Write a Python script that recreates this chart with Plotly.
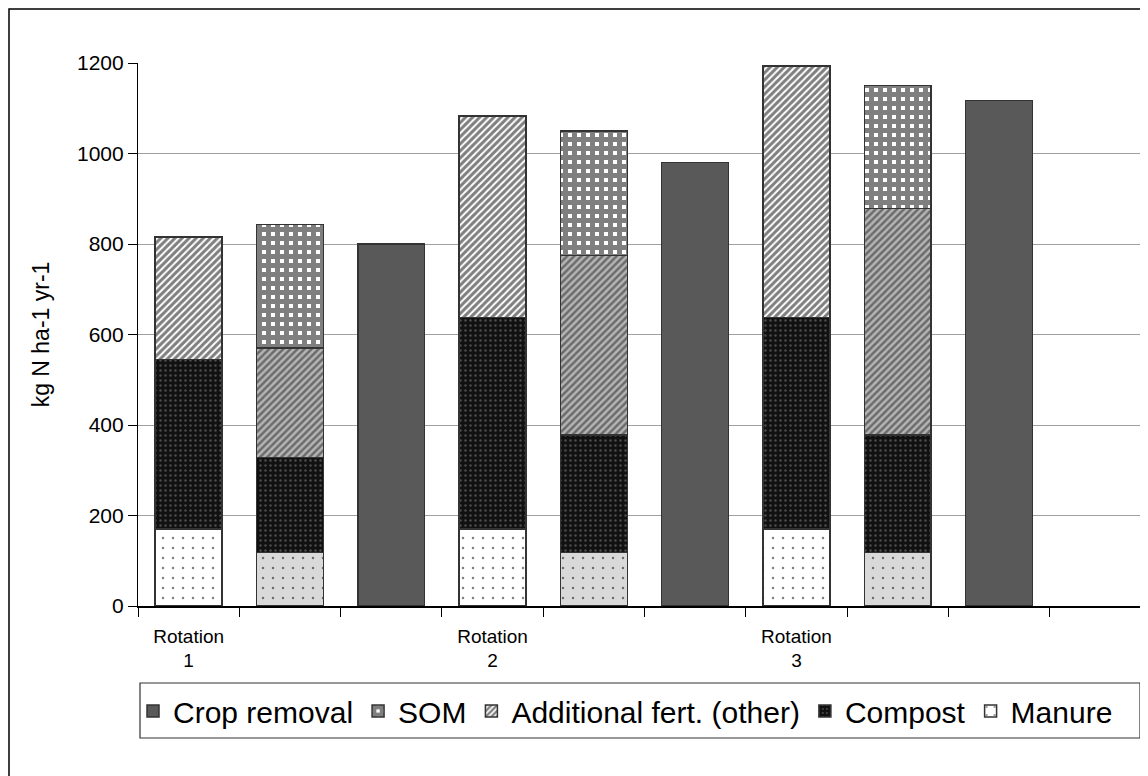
import plotly.graph_objects as go

positions = [1, 2, 3, 4, 5, 6, 7, 8, 9]
rotation_ticks = [1, 4, 7]
rotation_labels = ["Rotation<br>1", "Rotation<br>2", "Rotation<br>3"]

manure = [170, 118, None, 170, 118, None, 170, 118, None]
compost = [375, 210, None, 468, 260, None, 468, 260, None]
additional = [270, 242, None, 445, 397, None, 555, 500, None]
som = [None, 273, None, None, 275, None, None, 272, None]
crop_removal = [None, None, 800, None, None, 980, None, None, 1117]

# scenario A bars (1, 4, 7) vs scenario B bars (2, 5, 8) are shaded differently
scen_a = [True, False, False, True, False, False, True, False, False]


def pick(values, mask):
    return [v if m else None for v, m in zip(values, mask)]


scen_b = [not m for m in scen_a]

W = 0.66
LINE = dict(color="#333333", width=1.5)

fig = go.Figure()

# Manure (white / light gray with black dots)
fig.add_trace(go.Bar(
    name="Manure", legendgroup="manure", x=positions, y=pick(manure, scen_a), width=W,
    marker=dict(color="#ffffff", line=LINE,
                pattern=dict(shape=".", fgcolor="#000000", bgcolor="#ffffff", size=10, solidity=0.05)),
))
fig.add_trace(go.Bar(
    name="Manure", legendgroup="manure", showlegend=False, x=positions, y=pick(manure, scen_b), width=W,
    marker=dict(color="#d9d9d9", line=LINE,
                pattern=dict(shape=".", fgcolor="#000000", bgcolor="#d9d9d9", size=10, solidity=0.05)),
))
# Compost
fig.add_trace(go.Bar(
    name="Compost", x=positions, y=compost, width=W,
    marker=dict(color="#111111", line=LINE,
                pattern=dict(shape=".", fgcolor="#8a8a8a", bgcolor="#111111", size=5, solidity=0.18)),
))
# Additional fert.
fig.add_trace(go.Bar(
    name="Additional fert. (other)", legendgroup="add", x=positions, y=pick(additional, scen_a), width=W,
    marker=dict(color="#ffffff", line=LINE,
                pattern=dict(shape="/", fgcolor="#000000", bgcolor="#ffffff", size=5, solidity=0.6)),
))
fig.add_trace(go.Bar(
    name="Additional fert. (other)", legendgroup="add", showlegend=False, x=positions,
    y=pick(additional, scen_b), width=W,
    marker=dict(color="#b5b5b5", line=LINE,
                pattern=dict(shape="/", fgcolor="#222222", bgcolor="#b5b5b5", size=5, solidity=0.5)),
))
# SOM
fig.add_trace(go.Bar(
    name="SOM", x=positions, y=som, width=W,
    marker=dict(color="#ffffff", line=LINE,
                pattern=dict(shape="+", fgcolor="#000000", bgcolor="#ffffff", size=9, solidity=0.8)),
))
# Crop removal
fig.add_trace(go.Bar(
    name="Crop removal", x=positions, y=crop_removal, width=W,
    marker=dict(color="#595959", line=dict(color="#333333", width=1.5)),
))

OFF = 8  # page body margin
FW, FH = 1148 - OFF, 776 - OFF
L, T, PW, PH = 138 - OFF, 63 - OFF, 1010, 543


def px_x(x):
    return (x - OFF - L) / PW


def px_y(y):
    return 1 - (y - OFF - T) / PH


fig.update_layout(
    width=FW, height=FH,
    margin=dict(l=L, r=FW - L - PW, t=T, b=FH - T - PH, pad=0),
    barmode="stack",
    plot_bgcolor="#ffffff", paper_bgcolor="#ffffff",
    font=dict(family="Liberation Sans, Arial, sans-serif", color="#000000"),
    xaxis=dict(
        range=[0.5, 0.5 + PW / 101.3],
        tickvals=rotation_ticks, ticktext=rotation_labels,
        ticks="", showgrid=False, zeroline=False,
        showline=True, linecolor="#000000", linewidth=1.5,
        tickfont=dict(size=19, color="#000000"),
        ticklabelstandoff=12,
        minor=dict(ticks="outside", tick0=0.5, dtick=1, ticklen=9, tickcolor="#000000",
                   tickwidth=1.2, showgrid=False),
    ),
    yaxis=dict(
        range=[0, 1200], tickvals=[0, 200, 400, 600, 800, 1000, 1200],
        showgrid=True, gridcolor="#a0a0a0", gridwidth=1.3,
        zeroline=False, showline=True, linecolor="#000000", linewidth=1.2,
        ticks="outside", ticklen=9, tickcolor="#000000",
        tickfont=dict(size=21, color="#000000"),
        title=dict(text="kg N ha-1 yr-1", font=dict(size=23), standoff=20),
    ),
    legend=dict(
        orientation="h", traceorder="reversed",
        x=px_x(133), xanchor="left", y=px_y(711), yanchor="middle",
        font=dict(size=30, color="#000000"),
        bgcolor="rgba(0,0,0,0)", itemwidth=30,
    ),
    shapes=[
        dict(type="rect", xref="paper", yref="paper",
             x0=px_x(9), x1=px_x(1200), y0=px_y(800), y1=px_y(9),
             line=dict(color="#000000", width=1.5), fillcolor="rgba(0,0,0,0)", layer="below"),
        dict(type="rect", xref="paper", yref="paper",
             x0=px_x(140), x1=px_x(1140), y0=px_y(738), y1=px_y(683),
             line=dict(color="#333333", width=1.2), fillcolor="rgba(0,0,0,0)"),
    ],
)

fig.write_html("out.html")
